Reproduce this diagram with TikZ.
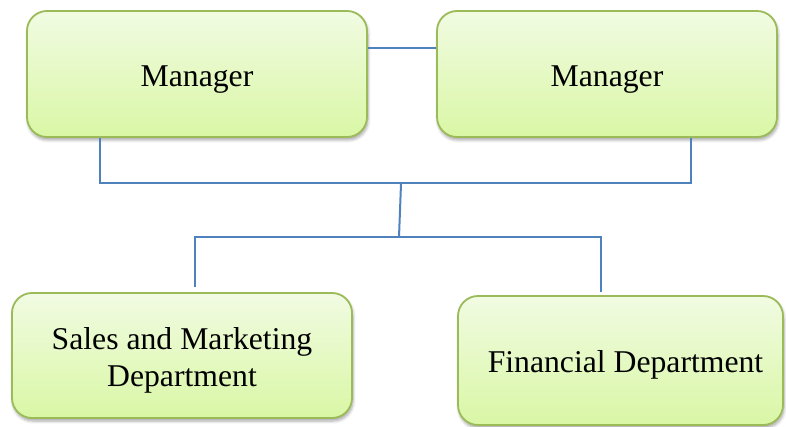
\documentclass[tikz,border=0pt]{standalone}
\usepackage{fontspec}
\setmainfont{Liberation Serif}
\usetikzlibrary{shadows.blur}
\definecolor{boxtop}{HTML}{F1FBE2}
\definecolor{boxbot}{HTML}{D9F7A5}
\definecolor{boxedge}{HTML}{9BBB59}
\definecolor{linkblue}{HTML}{4F81BD}
% box label, set a little below the middle of its box
\newcommand{\boxlabel}[2][0pt]{\hspace*{#1}\raisebox{-5pt}[\height][\depth]{\begin{tabular}{@{}c@{}}#2\end{tabular}}}
\begin{document}
\begin{tikzpicture}[x=1pt,y=-1pt,
  unitbox/.style={draw=boxedge, line width=1.8pt, rounded corners=20pt,
    top color=boxtop, bottom color=boxbot, align=center, inner sep=0pt,
    font=\fontsize{31.7}{37}\selectfont,
    blur shadow={shadow xshift=1pt, shadow yshift=-3pt, shadow blur radius=3pt,
      shadow blur steps=6, shadow opacity=35}},
  link/.style={draw=linkblue, line width=2pt}]
\useasboundingbox (0,0) rectangle (786,427);

% boxes
\node[unitbox, minimum width=340pt, minimum height=126pt] (m1) at (197,74) {\boxlabel{Manager}};
\node[unitbox, minimum width=340pt, minimum height=126pt] (m2) at (607,74) {\boxlabel{Manager}};
\node[unitbox, minimum width=340pt, minimum height=125pt] (sm) at (182,355.5) {\boxlabel{Sales and Marketing\\Department}};
\node[unitbox, minimum width=325pt, minimum height=129pt] (fd) at (620.5,360.5) {\boxlabel[10pt]{Financial Department}};

% junction points
\coordinate (b1l) at (100,183);
\coordinate (b1r) at (691,183);
\coordinate (b1m) at (401,184);
\coordinate (b2m) at (399,237);
\coordinate (b2l) at (195,237);
\coordinate (b2r) at (601,237);
\coordinate (smtop) at (195,287);
\coordinate (fdtop) at (601,292);

% connectors
\draw[link] ([yshift=26.3pt]m1.east) -- ([yshift=26.3pt]m2.west);
\draw[link] (m1.south -| b1l) -- (b1l) -- (b1r) -- (m2.south -| b1r);
\draw[link] (b1m) -- (b2m);
\draw[link] (smtop) -- (b2l) -- (b2r) -- (fdtop);
\end{tikzpicture}
\end{document}
